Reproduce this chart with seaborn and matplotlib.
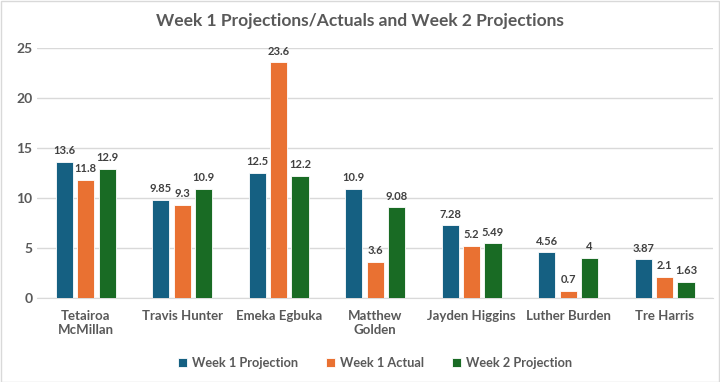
import pandas as pd
import matplotlib.pyplot as plt
import seaborn as sns

# Data
players = ["Tetairoa\nMcMillan", "Travis Hunter", "Emeka Egbuka", "Matthew\nGolden",
           "Jayden Higgins", "Luther Burden", "Tre Harris"]
wk1_proj = [13.6, 9.85, 12.5, 10.9, 7.28, 4.56, 3.87]
wk1_actual = [11.8, 9.3, 23.6, 3.6, 5.2, 0.7, 2.1]
wk2_proj = [12.9, 10.9, 12.2, 9.08, 5.49, 4, 1.63]
series = ["Week 1 Projection", "Week 1 Actual", "Week 2 Projection"]
colors = ["#156082", "#E97132", "#196B24"]

df = pd.concat([
    pd.DataFrame({"player": players, "points": vals, "series": name})
    for name, vals in zip(series, [wk1_proj, wk1_actual, wk2_proj])
])

sns.set_style("white")
plt.rcParams["font.family"] = ["Lato", "DejaVu Sans"]
grey = "#595959"

fig = plt.figure(figsize=(7.2, 3.82), dpi=100)
ax = fig.add_axes([0.052, 0.22, 0.938, 0.654])

sns.barplot(data=df, x="player", y="points", hue="series", palette=colors, saturation=1,
            width=0.666, gap=0.2, edgecolor="white", linewidth=0.6, ax=ax, zorder=3)

for cont in ax.containers:
    ax.bar_label(cont, fmt="%g", padding=4, fontsize=8, fontweight="bold", color="#404040")

ax.set_ylim(0, 25)
ax.set_yticks(range(0, 26, 5))
ax.grid(axis="y", color="#D9D9D9", linewidth=1, zorder=0)
ax.set_xlabel("")
ax.set_ylabel("")
for s in ["top", "right", "left"]:
    ax.spines[s].set_visible(False)
ax.spines["bottom"].set_color("#D9D9D9")
ax.tick_params(axis="both", length=0, colors=grey, labelsize=9.5)
ax.tick_params(axis="y", labelsize=10)
ax.tick_params(axis="x", pad=9)
for lbl in ax.get_xticklabels() + ax.get_yticklabels():
    lbl.set_fontweight("bold")

ax.legend(loc="upper center", bbox_to_anchor=(0.5, -0.19), ncol=3, frameon=False,
          handlelength=0.7, handleheight=0.7, handletextpad=0.4, columnspacing=2.2,
          prop={"size": 9.2, "weight": "bold"}, labelcolor=grey)

fig.suptitle("Week 1 Projections/Actuals and Week 2 Projections", y=0.965,
             fontsize=12.5, fontweight="bold", color=grey)
fig.patches.append(plt.Rectangle((0.001, 0.001), 0.997, 0.997, transform=fig.transFigure,
                                 fill=False, edgecolor="#D9D9D9", linewidth=1))

fig.savefig("out.png", dpi=100)
